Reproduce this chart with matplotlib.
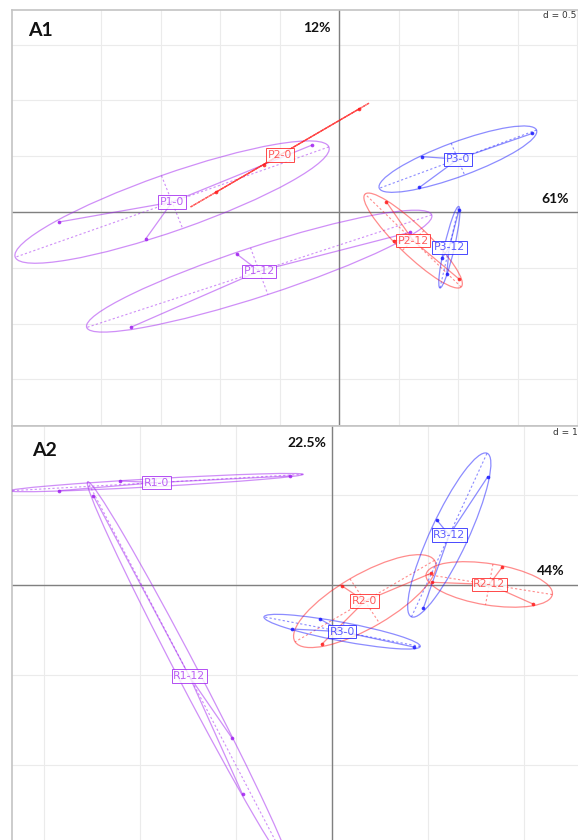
import numpy as np
import matplotlib
matplotlib.use('Agg')
import matplotlib.pyplot as plt
from matplotlib.patches import Ellipse

# ---- A1 : group scores (axis 1 = 61%, axis 2 = 12%)
p1_0_x = [-2.353, -1.625, -0.231]
p1_0_y = [-0.090, -0.242, 0.598]
p2_0_x = [-1.030, -0.634, 0.171]
p2_0_y = [0.180, 0.425, 0.925]
p3_0_x = [0.697, 0.676, 1.624]
p3_0_y = [0.496, 0.220, 0.704]
p1_12_x = [-0.861, -1.749, 0.598]
p1_12_y = [-0.376, -1.033, -0.182]
p2_12_x = [0.397, 0.460, 1.011]
p2_12_y = [0.092, -0.257, -0.603]
p3_12_x = [1.008, 0.868, 0.905]
p3_12_y = [0.018, -0.409, -0.556]

# ---- A2 : group scores (axis 1 = 44%, axis 2 = 22.5%)
r1_0_x = [-2.844, -2.206, -0.436]
r1_0_y = [1.048, 1.156, 1.211]
r2_0_x = [0.101, -0.107, 1.031]
r2_0_y = [-0.008, -0.659, 0.130]
r3_0_x = [-0.125, -0.414, 0.854]
r3_0_y = [-0.378, -0.489, -0.689]
r1_12_x = [-2.486, -1.040, -0.932]
r1_12_y = [0.992, -1.703, -2.326]
r2_12_x = [1.045, 1.774, 2.094]
r2_12_y = [0.030, 0.200, -0.211]
r3_12_x = [1.091, 1.622, 0.951]
r3_12_y = [0.722, 1.203, -0.259]

purple = '#a020f0'
red = '#ff1a1a'
blue = '#1a1aff'

W, H = 578, 840
fig = plt.figure(figsize=(W / 100, H / 100), dpi=100)


def px_axes(left, top, right, bottom):
    # pixel box -> figure fraction
    return fig.add_axes([left / W, 1 - bottom / H, (right - left) / W, (bottom - top) / H])


def setup(ax, xlim, ylim, step, xgrid_from):
    ax.set_xlim(xlim)
    ax.set_ylim(ylim)
    xt = np.arange(xgrid_from, xlim[1] + 1e-9, step)
    yt = np.arange(np.ceil(ylim[0] / step), np.floor(ylim[1] / step) + 1) * step
    for v in xt:
        ax.axvline(v, color='#ebebeb', lw=0.8, zorder=0)
    for v in yt:
        ax.axhline(v, color='#ebebeb', lw=0.8, zorder=0)
    ax.axvline(0, color='#808080', lw=1.0, zorder=1)
    ax.axhline(0, color='#808080', lw=1.0, zorder=1)
    ax.set_xticks([])
    ax.set_yticks([])
    for s in ax.spines.values():
        s.set_color('#c4c4c4')
        s.set_linewidth(1.2)


def draw_class(ax, xs, ys, label, color, cell=1.5):
    xs = np.asarray(xs)
    ys = np.asarray(ys)
    cx, cy = xs.mean(), ys.mean()
    cov = np.cov(np.vstack([xs, ys]), bias=True)
    vals, vecs = np.linalg.eigh(cov)
    vals = np.clip(vals, 1e-8, None)
    order = vals.argsort()[::-1]
    vals, vecs = vals[order], vecs[:, order]
    a, b = cell * np.sqrt(vals)
    ang = np.degrees(np.arctan2(vecs[1, 0], vecs[0, 0]))
    ax.add_patch(Ellipse((cx, cy), 2 * a, 2 * b, angle=ang, fill=False,
                         ec=color, lw=0.9, alpha=0.5, zorder=3))
    # ellipse axes, dotted
    for k, r in ((0, a), (1, b)):
        v = vecs[:, k]
        ax.plot([cx - r * v[0], cx + r * v[0]], [cy - r * v[1], cy + r * v[1]],
                color=color, lw=0.8, alpha=0.5, ls=(0, (2, 2)), zorder=3)
    # star
    for x, y in zip(xs, ys):
        ax.plot([cx, x], [cy, y], color=color, lw=0.9, alpha=0.5, zorder=3)
    ax.scatter(xs, ys, s=7, color=color, alpha=0.85, lw=0, zorder=4)
    ax.text(cx, cy, label, color=color, alpha=0.7, fontsize=7.8, ha='center', va='center',
            zorder=5, bbox=dict(boxstyle='square,pad=0.15', fc='white', ec=color, lw=0.7, alpha=0.8))


# ---- A1
ax1 = px_axes(12, 10, 580, 426)
setup(ax1, (-2.748, 2.025), (-1.918, 1.810), 0.5, -2.0)
draw_class(ax1, p1_0_x, p1_0_y, 'P1-0', purple)
draw_class(ax1, p1_12_x, p1_12_y, 'P1-12', purple)
draw_class(ax1, p2_0_x, p2_0_y, 'P2-0', red)
draw_class(ax1, p2_12_x, p2_12_y, 'P2-12', red)
draw_class(ax1, p3_0_x, p3_0_y, 'P3-0', blue)
draw_class(ax1, p3_12_x, p3_12_y, 'P3-12', blue)

# ---- A2
ax2 = px_axes(12, 426, 580, 845)
setup(ax2, (-3.333, 2.583), (-2.889, 1.767), 1.0, -3.0)
draw_class(ax2, r1_0_x, r1_0_y, 'R1-0', purple)
draw_class(ax2, r1_12_x, r1_12_y, 'R1-12', purple)
draw_class(ax2, r2_0_x, r2_0_y, 'R2-0', red)
draw_class(ax2, r2_12_x, r2_12_y, 'R2-12', red)
draw_class(ax2, r3_0_x, r3_0_y, 'R3-0', blue)
draw_class(ax2, r3_12_x, r3_12_y, 'R3-12', blue)


def ptext(x, y, s, **kw):
    fig.text(x / W, 1 - y / H, s, **kw)


bold = dict(family=['Lato', 'DejaVu Sans'], weight='bold', color='#111111', ha='center', va='center')
ptext(40, 31, 'A1', fontsize=14, **bold)
ptext(317, 28, '12%', fontsize=10, **bold)
ptext(555, 199, '61%', fontsize=10, **bold)
ptext(44, 450, 'A2', fontsize=14, **bold)
ptext(307, 443, '22.5%', fontsize=10, **bold)
ptext(551, 571, '44%', fontsize=10, **bold)
ptext(576, 16, 'd = 0.5', fontsize=6.5, color='#333333', ha='right', va='center')
ptext(578, 433, 'd = 1', fontsize=6.5, color='#333333', ha='right', va='center')

fig.savefig('out.png', dpi=100, facecolor='white')
